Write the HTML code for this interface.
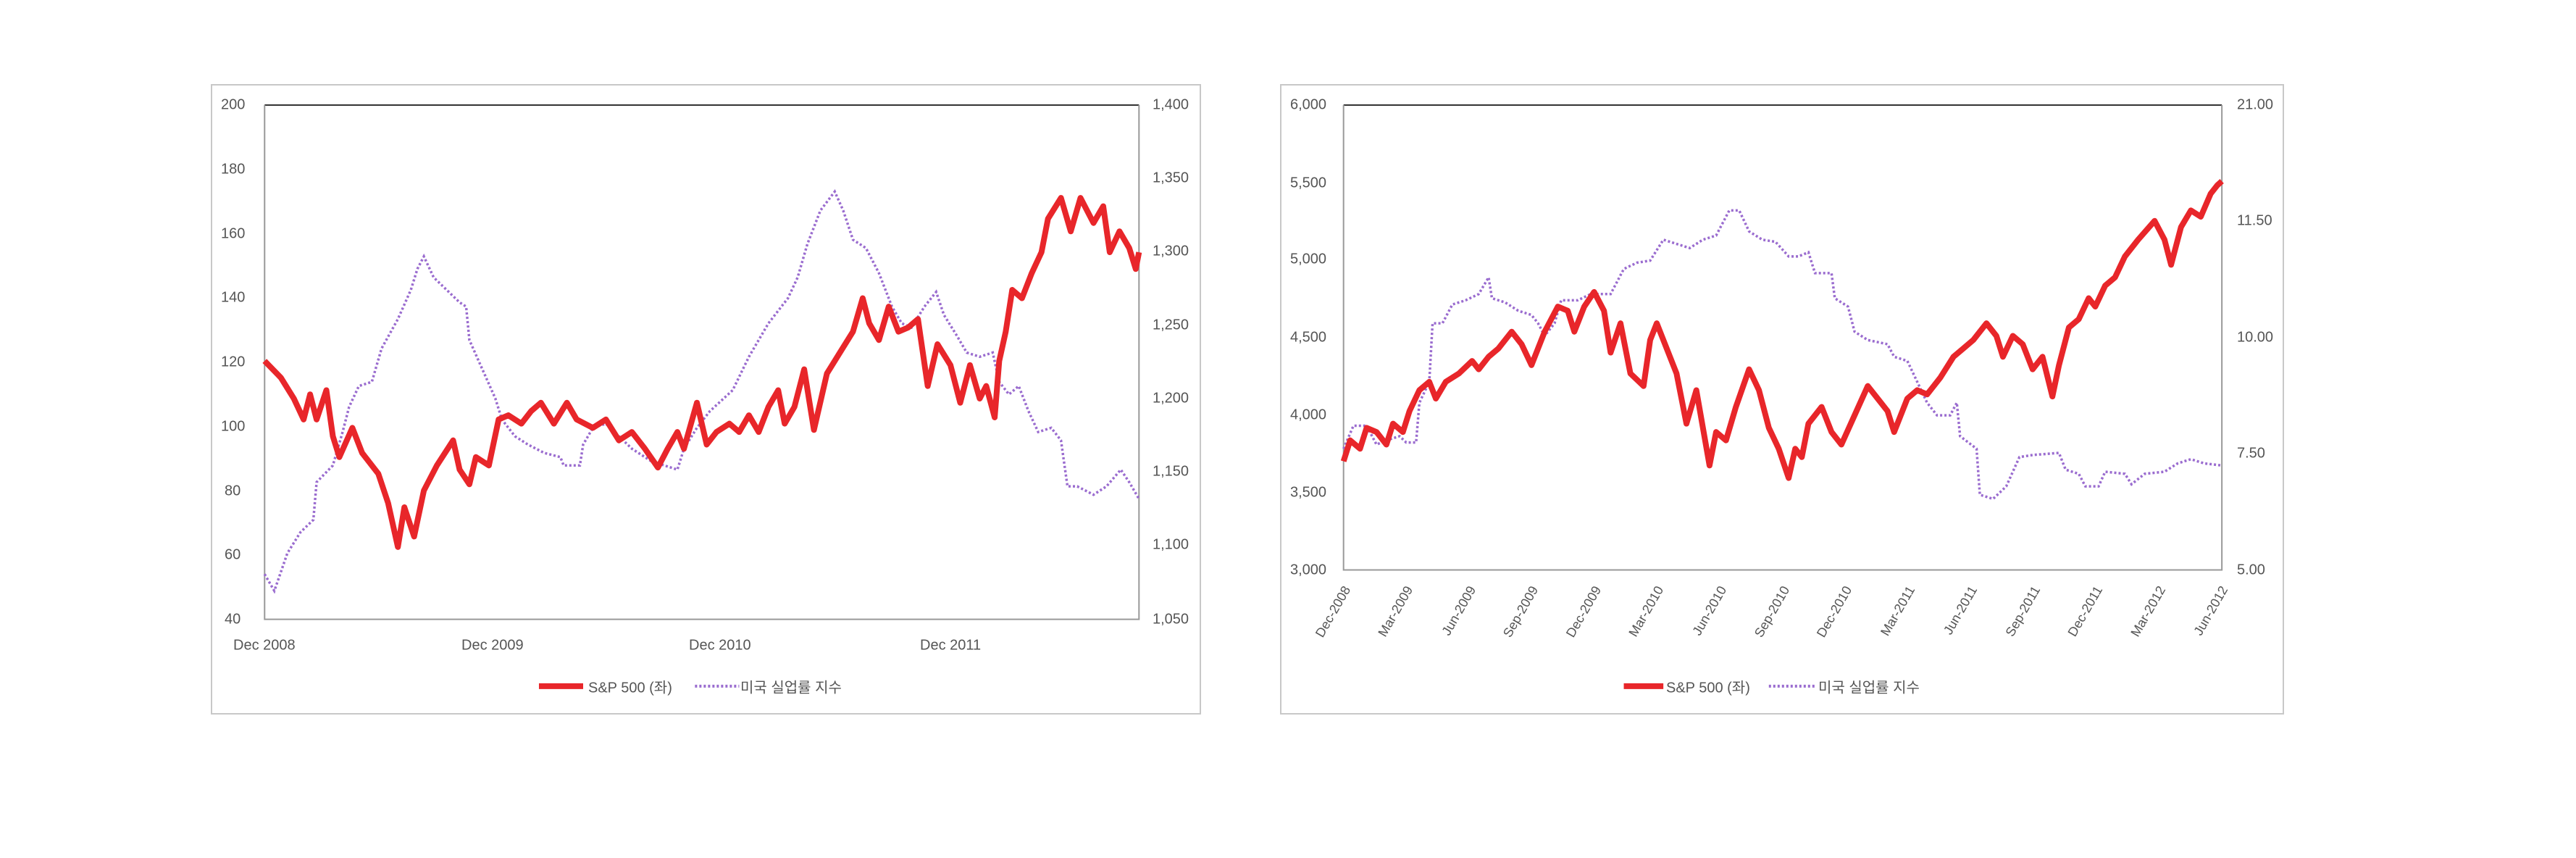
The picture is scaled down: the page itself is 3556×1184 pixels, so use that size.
<!DOCTYPE html>
<html><head><meta charset="utf-8"><style>
body{margin:0;width:3556px;height:1184px;background:#fff;position:relative;overflow:hidden;font-family:"Liberation Sans","Noto Sans CJK KR",sans-serif;color:#555}
.box{position:absolute;border:2px solid #c8c8c8;box-sizing:border-box}
.l{position:absolute;font-size:20px;white-space:nowrap;transform:translateY(-50%)}
.r{text-align:right}
.rot{position:absolute;font-size:18px;white-space:nowrap;transform-origin:100% 50%;transform:rotate(-60deg)}
svg{position:absolute}
</style></head><body>
<div class="box" style="left:291px;top:116px;width:1367px;height:870px"></div>
<div class="box" style="left:1767px;top:116px;width:1386px;height:870px"></div>

<svg style="left:280px;top:100px" width="1400" height="900" viewBox="0 0 1560 1560" preserveAspectRatio="none">
<g fill="none" vector-effect="non-scaling-stroke">
<line x1="95" y1="78" x2="1440" y2="78" stroke="#333" stroke-width="2" vector-effect="non-scaling-stroke"/>
<polyline points="95,78 95,1308 1440,1308 1440,78" stroke="#999" stroke-width="2" vector-effect="non-scaling-stroke" fill="none"/>
<polyline points="95,1200 110,1240 130,1150 150,1100 170,1070 175,980 200,940 215,860 225,800 240,750 260,740 275,660 300,590 320,520 330,470 340,440 355,490 375,520 395,550 405,560 410,640 430,710 450,780 460,830 480,870 500,890 525,910 550,920 555,940 580,940 585,890 600,850 620,840 640,870 660,900 690,930 710,940 730,950 740,900 760,850 780,810 815,760 840,680 870,600 900,540 915,490 930,410 950,330 972,285 985,330 1000,400 1020,420 1040,480 1060,560 1075,600 1090,610 1110,560 1128,525 1140,580 1160,630 1175,670 1195,680 1215,670 1225,740 1240,770 1255,750 1270,810 1285,860 1305,850 1320,880 1330,990 1345,990 1370,1010 1390,990 1412,950 1425,980 1440,1020" stroke="#9a6ccf" stroke-width="3.5" stroke-dasharray="3 3" vector-effect="non-scaling-stroke" fill="none"/>
<polyline points="95,690 120,730 140,780 155,830 165,770 175,830 190,760 200,870 210,920 230,850 245,910 270,960 285,1030 300,1135 310,1040 325,1110 340,1000 360,940 385,880 395,950 410,985 420,920 440,940 455,830 470,820 490,840 505,810 520,790 540,840 560,790 575,830 600,850 620,830 640,880 660,860 680,900 700,945 715,900 730,860 740,900 760,790 775,890 790,860 810,840 825,860 840,820 855,860 870,800 885,760 895,840 910,800 925,710 940,855 960,720 980,670 1000,620 1015,540 1025,600 1040,640 1055,560 1070,620 1085,610 1100,590 1115,750 1130,650 1150,700 1165,790 1180,700 1195,780 1205,750 1218,825 1225,690 1235,620 1245,520 1260,540 1275,480 1290,430 1300,350 1320,300 1335,380 1350,300 1370,360 1385,320 1395,430 1410,380 1425,420 1435,470 1440,430" stroke="#e8262a" stroke-width="8" stroke-linejoin="round" vector-effect="non-scaling-stroke" fill="none"/>
<line x1="517" y1="1468" x2="585" y2="1468" stroke="#e8262a" stroke-width="8" vector-effect="non-scaling-stroke"/>
<line x1="757" y1="1468" x2="825" y2="1468" stroke="#9a6ccf" stroke-width="4" stroke-dasharray="3 3" vector-effect="non-scaling-stroke"/>
</g></svg>

<svg style="left:1750px;top:100px" width="1420" height="900" viewBox="0 0 1560 1560" preserveAspectRatio="none">
<line x1="115" y1="78" x2="1447" y2="78" stroke="#333" stroke-width="2" vector-effect="non-scaling-stroke"/>
<polyline points="115,78 115,1190 1447,1190 1447,78" stroke="#999" stroke-width="2" vector-effect="non-scaling-stroke" fill="none"/>
<polyline points="115,900 130,845 150,845 165,890 180,880 200,870 210,885 225,885 230,790 245,740 250,600 265,600 280,555 300,545 320,530 335,490 340,540 360,550 380,570 400,580 410,600 420,630 435,600 445,545 470,545 490,530 520,530 540,470 560,455 580,450 600,400 620,410 640,420 660,400 680,390 700,330 715,330 730,380 750,400 770,405 790,440 805,440 820,430 830,480 855,480 860,540 880,560 890,620 910,640 940,650 950,680 970,690 985,740 1000,790 1015,820 1035,820 1045,790 1050,870 1075,900 1080,1010 1100,1020 1120,990 1140,920 1160,915 1200,910 1210,950 1230,960 1240,990 1260,990 1270,955 1300,960 1310,985 1330,960 1360,955 1380,935 1400,925 1420,935 1447,940" stroke="#9a6ccf" stroke-width="3.5" stroke-dasharray="3 3" vector-effect="non-scaling-stroke" fill="none"/>
<polyline points="115,930 125,880 140,900 150,850 165,860 180,890 190,840 205,860 215,810 230,760 245,740 255,780 270,740 290,720 310,690 320,710 335,680 350,660 370,620 385,650 400,700 410,660 420,620 440,560 455,570 465,620 480,560 495,525 510,570 520,670 535,600 550,720 570,750 580,640 590,600 605,660 620,720 635,840 650,760 670,940 680,860 695,880 710,800 730,710 745,760 760,850 775,900 790,970 800,900 810,920 820,840 840,800 855,860 870,890 890,820 910,750 925,780 940,810 950,860 970,780 985,760 1000,770 1020,730 1040,680 1055,660 1070,640 1090,600 1105,630 1115,680 1130,630 1145,650 1160,710 1175,680 1190,775 1200,700 1215,610 1230,590 1245,540 1255,560 1270,510 1285,490 1300,440 1320,400 1345,355 1360,400 1370,460 1385,370 1400,330 1415,345 1430,290 1440,270 1447,260" stroke="#e8262a" stroke-width="8" stroke-linejoin="round" vector-effect="non-scaling-stroke" fill="none"/>
<line x1="540" y1="1468" x2="600" y2="1468" stroke="#e8262a" stroke-width="8" vector-effect="non-scaling-stroke"/>
<line x1="760" y1="1468" x2="830" y2="1468" stroke="#9a6ccf" stroke-width="4" stroke-dasharray="3 3" vector-effect="non-scaling-stroke"/>
</svg>

<!-- left chart labels -->
<div class="l" style="left:305px;top:145px">200</div>
<div class="l" style="left:305px;top:234px">180</div>
<div class="l" style="left:305px;top:323px">160</div>
<div class="l" style="left:305px;top:411px">140</div>
<div class="l" style="left:305px;top:500px">120</div>
<div class="l" style="left:305px;top:589px">100</div>
<div class="l" style="left:310px;top:678px">80</div>
<div class="l" style="left:310px;top:766px">60</div>
<div class="l" style="left:310px;top:855px">40</div>
<div class="l" style="left:1591px;top:145px">1,400</div>
<div class="l" style="left:1591px;top:246px">1,350</div>
<div class="l" style="left:1591px;top:347px">1,300</div>
<div class="l" style="left:1591px;top:449px">1,250</div>
<div class="l" style="left:1591px;top:550px">1,200</div>
<div class="l" style="left:1591px;top:651px">1,150</div>
<div class="l" style="left:1591px;top:752px">1,100</div>
<div class="l" style="left:1591px;top:855px">1,050</div>
<div class="l" style="left:322px;top:891px">Dec 2008</div>
<div class="l" style="left:637px;top:891px">Dec 2009</div>
<div class="l" style="left:951px;top:891px">Dec 2010</div>
<div class="l" style="left:1270px;top:891px">Dec 2011</div>
<div class="l" style="left:812px;top:947px">S&amp;P 500 (좌)</div>
<div class="l" style="left:1022px;top:947px">미국 실업률 지수</div>

<!-- right chart labels -->
<div class="l" style="left:1781px;top:145px">6,000</div>
<div class="l" style="left:1781px;top:253px">5,500</div>
<div class="l" style="left:1781px;top:358px">5,000</div>
<div class="l" style="left:1781px;top:466px">4,500</div>
<div class="l" style="left:1781px;top:573px">4,000</div>
<div class="l" style="left:1781px;top:680px">3,500</div>
<div class="l" style="left:1781px;top:787px">3,000</div>
<div class="l" style="left:3088px;top:145px">21.00</div>
<div class="l" style="left:3088px;top:305px">11.50</div>
<div class="l" style="left:3088px;top:466px">10.00</div>
<div class="l" style="left:3088px;top:626px">7.50</div>
<div class="l" style="left:3088px;top:787px">5.00</div>
<div class="rot" style="left:1770px;top:800px;width:90px;text-align:right">Dec-2008</div>
<div class="rot" style="left:1856px;top:800px;width:90px;text-align:right">Mar-2009</div>
<div class="rot" style="left:1943px;top:800px;width:90px;text-align:right">Jun-2009</div>
<div class="rot" style="left:2029px;top:800px;width:90px;text-align:right">Sep-2009</div>
<div class="rot" style="left:2116px;top:800px;width:90px;text-align:right">Dec-2009</div>
<div class="rot" style="left:2202px;top:800px;width:90px;text-align:right">Mar-2010</div>
<div class="rot" style="left:2289px;top:800px;width:90px;text-align:right">Jun-2010</div>
<div class="rot" style="left:2376px;top:800px;width:90px;text-align:right">Sep-2010</div>
<div class="rot" style="left:2462px;top:800px;width:90px;text-align:right">Dec-2010</div>
<div class="rot" style="left:2549px;top:800px;width:90px;text-align:right">Mar-2011</div>
<div class="rot" style="left:2635px;top:800px;width:90px;text-align:right">Jun-2011</div>
<div class="rot" style="left:2722px;top:800px;width:90px;text-align:right">Sep-2011</div>
<div class="rot" style="left:2808px;top:800px;width:90px;text-align:right">Dec-2011</div>
<div class="rot" style="left:2895px;top:800px;width:90px;text-align:right">Mar-2012</div>
<div class="rot" style="left:2981px;top:800px;width:90px;text-align:right">Jun-2012</div>
<div class="l" style="left:2300px;top:947px">S&amp;P 500 (좌)</div>
<div class="l" style="left:2510px;top:947px">미국 실업률 지수</div>
</body></html>
